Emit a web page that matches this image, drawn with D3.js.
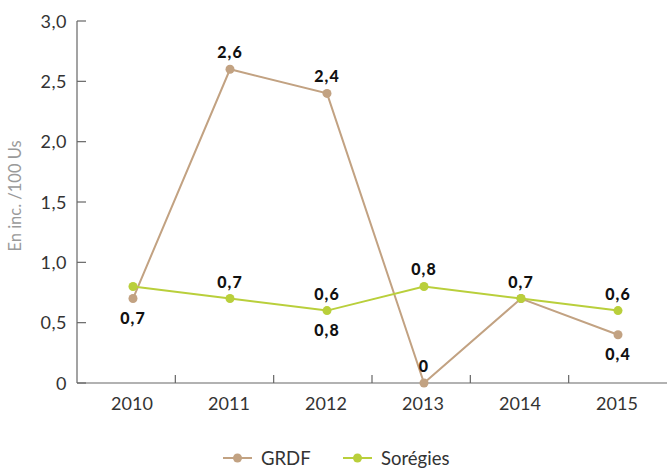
<!DOCTYPE html>
<html>
<head>
<meta charset="utf-8">
<script src="https://cdn.jsdelivr.net/npm/d3@7"></script>
<style>
    body { margin: 0; background: #fff; }
    text { font-family: Lato, "Open Sans", sans-serif; }
</style>
</head>
<body>
<div id="canvas"></div>
<script>
// data
const years = ["2010", "2011", "2012", "2013", "2014", "2015"];
const grdf = [0.7, 2.6, 2.4, 0, 0.7, 0.4];
const soregies = [0.8, 0.7, 0.6, 0.8, 0.7, 0.6];
const yTicks = [0, 0.5, 1.0, 1.5, 2.0, 2.5, 3.0];
const seriesNames = ["GRDF", "Sorégies"];

// value labels as printed on the chart
const labels = [
    { year: "2010", series: "GRDF", text: "0,7", pos: "below" },
    { year: "2011", series: "GRDF", text: "2,6", pos: "above" },
    { year: "2012", series: "GRDF", text: "2,4", pos: "above" },
    { year: "2013", series: "GRDF", text: "0", pos: "above" },
    { year: "2015", series: "GRDF", text: "0,4", pos: "below" },
    { year: "2011", series: "Sorégies", text: "0,7", pos: "above" },
    { year: "2012", series: "Sorégies", text: "0,6", pos: "above" },
    { year: "2012", series: "Sorégies", text: "0,8", pos: "below" },
    { year: "2013", series: "Sorégies", text: "0,8", pos: "above" },
    { year: "2014", series: "Sorégies", text: "0,7", pos: "above" },
    { year: "2015", series: "Sorégies", text: "0,6", pos: "above" }
];

const width = 667;
const height = 468;
const colors = { "GRDF": "#c2a282", "Sorégies": "#b9cf3b" };
const values = { "GRDF": grdf, "Sorégies": soregies };

const svg = d3.select("#canvas")
    .append("svg")
    .attr("width", width)
    .attr("height", height);

// scales
const x = d3.scalePoint().domain(years).range([133, 618]);
const xBand = d3.scaleBand().domain(years).range([77, 667]);
const y = d3.scaleLinear().domain([0, 3]).range([383, 21]);

const fmt = d => d === 0 ? "0" : d3.format(".1f")(d).replace(".", ",");

// y axis
svg.append("line")
    .attr("x1", 77).attr("x2", 77)
    .attr("y1", y(3)).attr("y2", y(0))
    .attr("stroke", "#666").attr("stroke-width", 1.2);

svg.selectAll(".ytick")
    .data(yTicks)
    .join("line")
    .attr("x1", 77).attr("x2", 86)
    .attr("y1", d => y(d)).attr("y2", d => y(d))
    .attr("stroke", "#666").attr("stroke-width", 1.2);

svg.selectAll(".ylabel")
    .data(yTicks)
    .join("text")
    .attr("x", 67)
    .attr("y", d => y(d) + 6.5)
    .attr("text-anchor", "end")
    .attr("font-size", 18)
    .attr("letter-spacing", 0.5)
    .attr("fill", "#333")
    .text(fmt);

svg.append("text")
    .attr("transform", "translate(21,196) rotate(-90)")
    .attr("text-anchor", "middle")
    .attr("font-size", 16.5)
    .attr("fill", "#9a9a9a")
    .text("En inc. /100 Us");

// x axis
svg.append("line")
    .attr("x1", 77).attr("x2", 667)
    .attr("y1", y(0)).attr("y2", y(0))
    .attr("stroke", "#666").attr("stroke-width", 1.2);

svg.selectAll(".xtick")
    .data(years.slice(1))
    .join("line")
    .attr("x1", d => xBand(d)).attr("x2", d => xBand(d))
    .attr("y1", y(0) - 8).attr("y2", y(0))
    .attr("stroke", "#666").attr("stroke-width", 1.2);

svg.selectAll(".xlabel")
    .data(years)
    .join("text")
    .attr("x", d => x(d) - 1)
    .attr("y", 410)
    .attr("text-anchor", "middle")
    .attr("font-size", 18)
    .attr("fill", "#333")
    .text(d => d);

// lines and points
const line = d3.line()
    .x((d, i) => x(years[i]))
    .y(d => y(d));

seriesNames.forEach(name => {
    svg.append("path")
        .datum(values[name])
        .attr("d", line)
        .attr("fill", "none")
        .attr("stroke", colors[name])
        .attr("stroke-width", 2);

    svg.selectAll(".pt-" + name)
        .data(values[name])
        .join("circle")
        .attr("cx", (d, i) => x(years[i]))
        .attr("cy", d => y(d))
        .attr("r", 4.5)
        .attr("fill", colors[name]);
});

// value labels
svg.selectAll(".vlabel")
    .data(labels)
    .join("text")
    .attr("x", d => x(d.year))
    .attr("y", d => {
        const v = values[d.series][years.indexOf(d.year)];
        return d.pos === "above" ? y(v) - 11 : y(v) + 25;
    })
    .attr("text-anchor", "middle")
    .attr("font-size", 16)
    .attr("font-weight", "900")
    .attr("letter-spacing", 1)
    .attr("fill", "#111")
    .text(d => d.text);

// legend
const legendX = [223, 343];
seriesNames.forEach((name, i) => {
    const g = svg.append("g").attr("transform", `translate(${legendX[i]}, 458)`);
    g.append("line")
        .attr("x1", 0).attr("x2", 29)
        .attr("y1", 0).attr("y2", 0)
        .attr("stroke", colors[name]).attr("stroke-width", 2);
    g.append("circle")
        .attr("cx", 14.5).attr("cy", 0).attr("r", 4.5)
        .attr("fill", colors[name]);
    g.append("text")
        .attr("x", 38).attr("y", 6.5)
        .attr("font-size", 18.5)
        .attr("fill", "#333")
        .text(name);
});
</script>
</body>
</html>
